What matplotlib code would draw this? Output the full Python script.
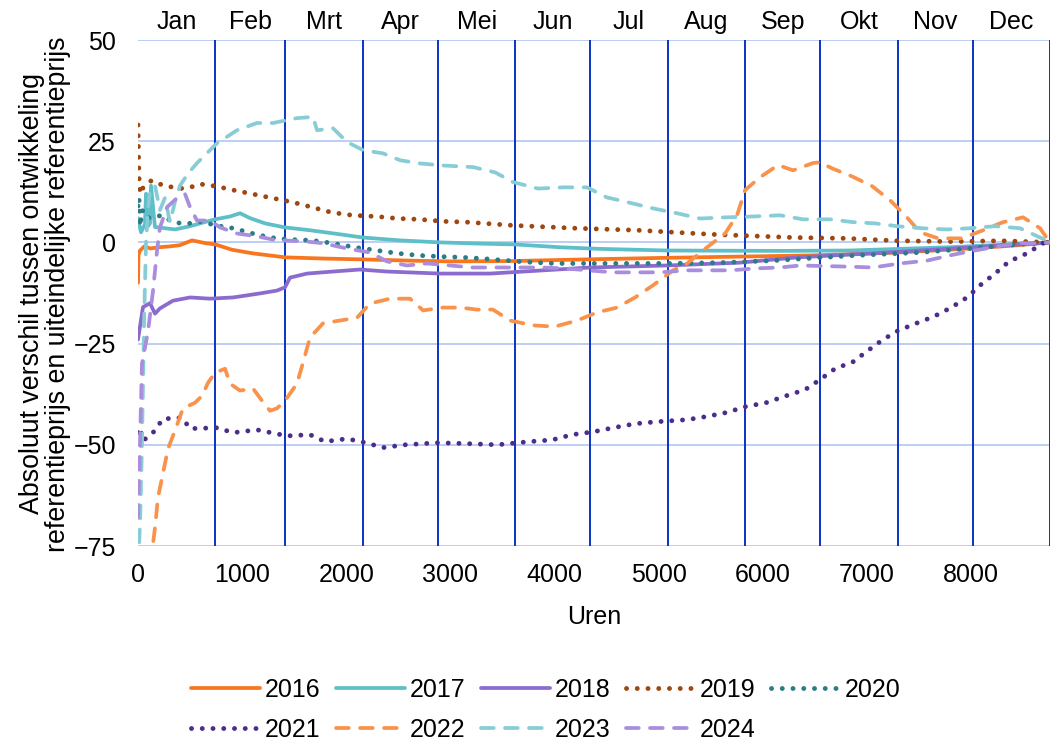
import matplotlib
matplotlib.use("Agg")
import matplotlib.pyplot as plt
import matplotlib.transforms as mtransforms

plt.rcParams['font.family'] = ['Liberation Sans', 'DejaVu Sans']

# einde van elke maand in uren
maand_eind = [744, 1416, 2160, 2880, 3624, 4344, 5088, 5832, 6552, 7296, 8016, 8760]
maanden = ["Jan", "Feb", "Mrt", "Apr", "Mei", "Jun", "Jul", "Aug", "Sep", "Okt", "Nov", "Dec"]

h2016 = [0, 5, 20, 60, 120, 200, 300, 400, 520, 650, 744, 900, 1100, 1416, 1800, 2160, 2600, 3000, 3600, 4300, 5100, 5800, 6500, 7300, 8000, 8400, 8760]
v2016 = [-10, -3, -2, -1, -1.5, -1.2, -1, -0.7, 0.5, -0.2, -0.5, -1.8, -2.7, -3.7, -4.0, -4.2, -4.5, -4.7, -4.6, -4.2, -3.8, -3.5, -3.2, -2.5, -1.5, -0.8, 0]

h2017 = [0, 29, 67, 77, 96, 115, 125, 154, 163, 259, 355, 500, 596, 740, 884, 980, 1076, 1220, 1412, 1652, 1940, 2161, 2517, 2901, 3285, 3621, 4054, 4438, 5082, 6167, 6839, 7800, 8280, 8760]
v2017 = [6, 2.5, 4.5, 12, 4, 4.7, 14, 6, 3.8, 3.5, 3.2, 4, 4.7, 5.7, 6.4, 7.2, 6, 4.7, 3.7, 3, 2, 1.2, 0.5, 0, -0.3, -0.5, -1.2, -1.6, -2, -2.1, -2, -1.2, -0.6, 0]

h2018 = [0, 48, 115, 163, 211, 336, 500, 692, 913, 1172, 1335, 1412, 1460, 1623, 1873, 2133, 2392, 2901, 3381, 4342, 5082, 5783, 6330, 7128, 8021, 8760]
v2018 = [-24, -16, -15, -17.6, -16.3, -14.4, -13.6, -13.9, -13.6, -12.6, -11.9, -11.1, -8.7, -7.7, -7.2, -6.7, -7.2, -7.7, -7.7, -6.2, -5.7, -5, -3.7, -2.6, -1.2, 0]

h2019 = [0, 5, 10, 20, 50, 130, 240, 400, 500, 600, 744, 920, 1110, 1300, 1490, 1670, 1860, 2060, 2290, 2500, 2700, 2930, 3160, 3600, 4200, 4800, 5500, 5800, 6300, 6800, 7300, 7800, 8300, 8760]
v2019 = [29, 22, 16, 12, 13.6, 15.3, 14.1, 13.3, 13.6, 14.4, 13.9, 12.9, 11.9, 10.9, 9.9, 8.7, 7.4, 6.7, 6.4, 5.9, 5.7, 5.2, 5, 4.2, 3.5, 3, 2, 1.7, 1.2, 1, 0.4, 0.2, 0.4, 0]

h2020 = [0, 10, 20, 40, 80, 145, 230, 290, 405, 500, 615, 740, 915, 1100, 1270, 1460, 1670, 1870, 2080, 2300, 2490, 2690, 2900, 3120, 3310, 3700, 4000, 5100, 5600, 6100, 6400, 6900, 7500, 8000, 8450, 8760]
v2020 = [9, 11, 4, 8, 6, 6.2, 6.7, 5.7, 4.7, 4.7, 5.2, 4.2, 3.5, 2.2, 1.2, 0.7, 0.5, -0.2, -1.2, -2, -2.7, -3.2, -3.5, -3.7, -4, -4.8, -5.2, -5.2, -5, -4.5, -4, -3.2, -2.5, -1.5, -0.5, 0]

h2021 = [0, 19, 48, 144, 240, 423, 500, 759, 913, 1143, 1431, 1652, 1796, 2008, 2190, 2353, 2565, 2872, 3160, 3449, 3766, 3977, 4169, 4371, 4563, 4774, 4986, 5274, 5466, 5658, 5831, 6033, 6225, 6407, 6551, 6695, 6868, 7012, 7156, 7301, 7474, 7646, 7810, 7963, 8098, 8232, 8367, 8540, 8694, 8760]
v2021 = [-47, -45.8, -49, -47, -43.6, -43.3, -46, -45.8, -47, -46.3, -47.8, -47.5, -49.2, -48.5, -49.5, -50.7, -50, -49.5, -49.7, -50, -49.2, -48.8, -47.5, -46.8, -45.8, -44.8, -44.3, -43.8, -43, -42, -40.6, -39.6, -37.9, -36.4, -33.9, -31.2, -29.5, -26.7, -24, -21.8, -20, -18.3, -16.1, -13.6, -10.4, -7.7, -4.7, -2.7, -0.2, 0]

h2022 = [0, 144, 163, 192, 240, 288, 355, 432, 548, 615, 672, 740, 836, 884, 980, 1105, 1191, 1268, 1335, 1412, 1527, 1585, 1652, 1777, 1940, 2104, 2228, 2421, 2613, 2738, 2930, 3093, 3256, 3410, 3573, 3794, 4005, 4217, 4409, 4601, 4774, 4947, 5139, 5274, 5466, 5639, 5754, 5831, 5975, 6148, 6292, 6484, 6551, 6666, 6859, 7051, 7224, 7368, 7512, 7685, 7915, 8117, 8309, 8501, 8664, 8760]
v2022 = [-85, -74.5, -70.5, -63, -57, -51, -46.5, -41, -39.6, -37.9, -34.7, -32.2, -31.2, -34.9, -36.6, -36.1, -39.1, -41.6, -41, -39.1, -34.9, -29.7, -23.5, -20, -19.3, -18.6, -15.1, -13.9, -13.9, -16.8, -16.1, -16.1, -16.6, -16.6, -19.3, -20.5, -20.8, -19.3, -17.3, -16.1, -13.6, -10.6, -6.9, -5.2, -1.2, 2.2, 6.7, 12.9, 16.1, 19.1, 17.8, 19.6, 19.8, 18.3, 16.3, 13.9, 10.4, 6.7, 2.5, 1, 1, 3, 5, 6.2, 3.5, 0]

h2023 = [0, 19, 38, 58, 77, 96, 115, 163, 211, 259, 307, 355, 403, 480, 567, 759, 951, 1143, 1297, 1527, 1681, 1720, 1873, 2008, 2161, 2353, 2517, 2709, 2930, 3218, 3430, 3602, 3842, 4083, 4313, 4505, 4707, 4947, 5178, 5399, 5658, 5908, 6167, 6388, 6647, 6868, 7080, 7291, 7531, 7771, 7992, 8232, 8472, 8665, 8760]
v2023 = [-80, -70, -50, -20, 0, 8, 13, 14, 8, 11, 5, 10, 14, 17, 19.6, 24.5, 27.7, 29.5, 29.5, 30.7, 31, 27.7, 28.2, 24.8, 22.8, 22, 20.3, 19.5, 19, 18.6, 17.3, 14.9, 13.3, 13.6, 13.6, 11.1, 9.9, 8.4, 7.2, 5.9, 6.2, 6.4, 6.7, 5.7, 5.7, 5, 4.7, 4, 3.5, 3.2, 3.5, 4, 3.5, 1.2, 0]

h2024 = [0, 19, 38, 96, 144, 183, 211, 279, 375, 451, 500, 567, 692, 788, 951, 1143, 1335, 1585, 1777, 2008, 2229, 2392, 2584, 2776, 2997, 3218, 3477, 3862, 4083, 4563, 5014, 5274, 5687, 5946, 6167, 6359, 6839, 7060, 7320, 7579, 7800, 7992, 8213, 8444, 8665, 8760]
v2024 = [-68, -50, -30, -22, -12, -2, 3.7, 8.7, 11, 12, 8.7, 5.4, 5.4, 3.7, 2.2, 1.5, 0.5, 0.3, -0.2, -1.5, -2.5, -4.7, -5.7, -5.2, -5.7, -6.2, -6.2, -6.2, -6.4, -7.4, -7.4, -6.9, -6.9, -6.4, -6.2, -5.7, -6, -6.2, -5.2, -4.5, -3.2, -2.2, -1.2, -0.2, -0.2, 0]

jaren = ["2016", "2017", "2018", "2019", "2020", "2021", "2022", "2023", "2024"]
uren = [h2016, h2017, h2018, h2019, h2020, h2021, h2022, h2023, h2024]
waarden = [v2016, v2017, v2018, v2019, v2020, v2021, v2022, v2023, v2024]
kleuren = ["#F8761E", "#5FBFC9", "#8C6BCE", "#9E4710", "#2A7C86", "#4C2E8A", "#F9934C", "#88CDD6", "#A88EDC"]
stijl = ["solid", "solid", "solid", "dot", "dot", "dot", "dash", "dash", "dash"]

fs = 18

fig = plt.figure(figsize=(10.54, 7.44), dpi=100)
ax = fig.add_axes([138 / 1054, 1 - 546 / 744, 912 / 1054, 506 / 744])

for y in [-75, -50, -25, 0, 25, 50]:
    ax.axhline(y, color="#BCCEF5", lw=1.4, zorder=0)
for m in maand_eind:
    ax.axvline(m, color="#0A33C4", lw=1.4, zorder=1)

lijnen = []
for i in range(len(jaren)):
    if stijl[i] == "solid":
        ln, = ax.plot(uren[i], waarden[i], color=kleuren[i], lw=2.7, solid_capstyle="round", label=jaren[i], zorder=3)
    elif stijl[i] == "dot":
        ln, = ax.plot(uren[i], waarden[i], color=kleuren[i], lw=3.5, linestyle=(0, (0.01, 2.2)),
                      dash_capstyle="round", label=jaren[i], zorder=3)
    else:
        ln, = ax.plot(uren[i], waarden[i], color=kleuren[i], lw=2.7, linestyle=(0, (3.4, 3.0)),
                      dash_capstyle="round", label=jaren[i], zorder=3)
    lijnen.append(ln)

ax.set_xlim(0, 8760)
ax.set_ylim(-75, 50)
ax.set_xticks(range(0, 8001, 1000))
ax.set_yticks([-75, -50, -25, 0, 25, 50])
ax.tick_params(axis="both", length=0, labelsize=fs)
ax.tick_params(axis="x", pad=12)
ax.tick_params(axis="y", pad=16)
for s in ax.spines.values():
    s.set_visible(False)
ax.set_xlabel("Uren", fontsize=fs, labelpad=13)

fig.text(45 / 1054, 1 - 294 / 744, "Absoluut verschil tussen ontwikkeling\nreferentieprijs en uiteindelijke referentieprijs",
         rotation=90, ha="center", va="center", fontsize=19.3, linespacing=0.98, multialignment="center")

trans = mtransforms.blended_transform_factory(ax.transData, ax.transAxes)
begin = [0] + maand_eind[:-1]
for i in range(12):
    ax.text((begin[i] + maand_eind[i]) / 2, 1.036, maanden[i], transform=trans, ha="center", va="center", fontsize=fs)

volgorde = [0, 5, 1, 6, 2, 7, 3, 8, 4]
fig.legend([lijnen[k] for k in volgorde], [jaren[k] for k in volgorde], ncol=5, loc="center",
           bbox_to_anchor=(546 / 1054, 1 - 710 / 744), frameon=False, fontsize=fs,
           handlelength=2.75, handletextpad=0.2, columnspacing=0.62, labelspacing=0.65)

fig.savefig("out.png", dpi=100)
